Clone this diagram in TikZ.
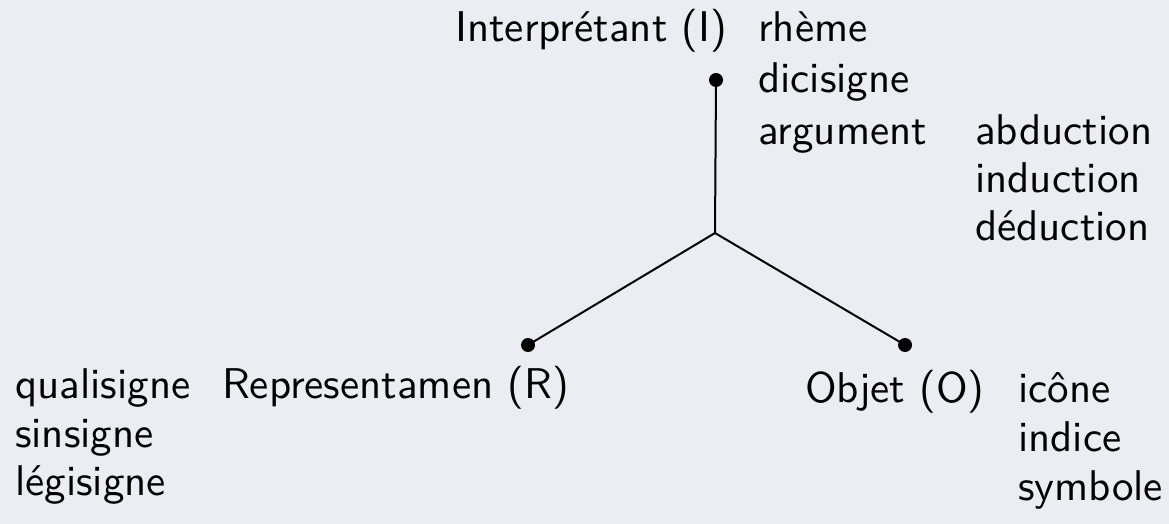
\documentclass[tikz,border=0pt]{standalone}
\usepackage{fontspec}
\newfontfamily\lmss{lmsans10-regular.otf}
\definecolor{bgcol}{RGB}{235,237,243}
\begin{document}
\begin{tikzpicture}[x=1pt,y=-1pt,
  lbl/.style={inner sep=0pt,anchor=base west,font=\lmss\fontsize{43}{48}\selectfont},
  dotnode/.style={circle,fill=black,inner sep=0pt,minimum size=14pt},
  arm/.style={line width=2pt,black}]
\fill[bgcol] (0,0) rectangle (1169,524);
\useasboundingbox (0,0) rectangle (1169,524);
% points
\coordinate (J) at (715,233);
\node[dotnode] (I) at (716,80) {};
\node[dotnode] (R) at (528,345) {};
\node[dotnode] (O) at (905,345) {};
\draw[arm] (I.center) -- (J) -- (R.center);
\draw[arm] (J) -- (O.center);
% interpretant
\node[lbl] (tI) at (455,42) {Interprétant (I)};
\node[lbl] (rh) at (758,42) {rhème};
\node[lbl] (di) at (758,93) {dicisigne};
\node[lbl] (ar) at (758,144) {argument};
\node[lbl] (ab) at (975,144) {abduction};
\node[lbl] (in) at (975,192) {induction};
\node[lbl] (de) at (975,240) {déduction};
% representamen
\node[lbl] (qu) at (15,398) {qualisigne};
\node[lbl] (si) at (15,447) {sinsigne};
\node[lbl] (le) at (15,495) {légisigne};
\node[lbl] (tR) at (222,398) {Representamen (R)};
% objet
\node[lbl] (tO) at (805,402) {Objet (O)};
\node[lbl] (ic) at (1018,402) {icône};
\node[lbl] (id) at (1018,451) {indice};
\node[lbl] (sy) at (1018,500) {symbole};
\end{tikzpicture}
\end{document}
